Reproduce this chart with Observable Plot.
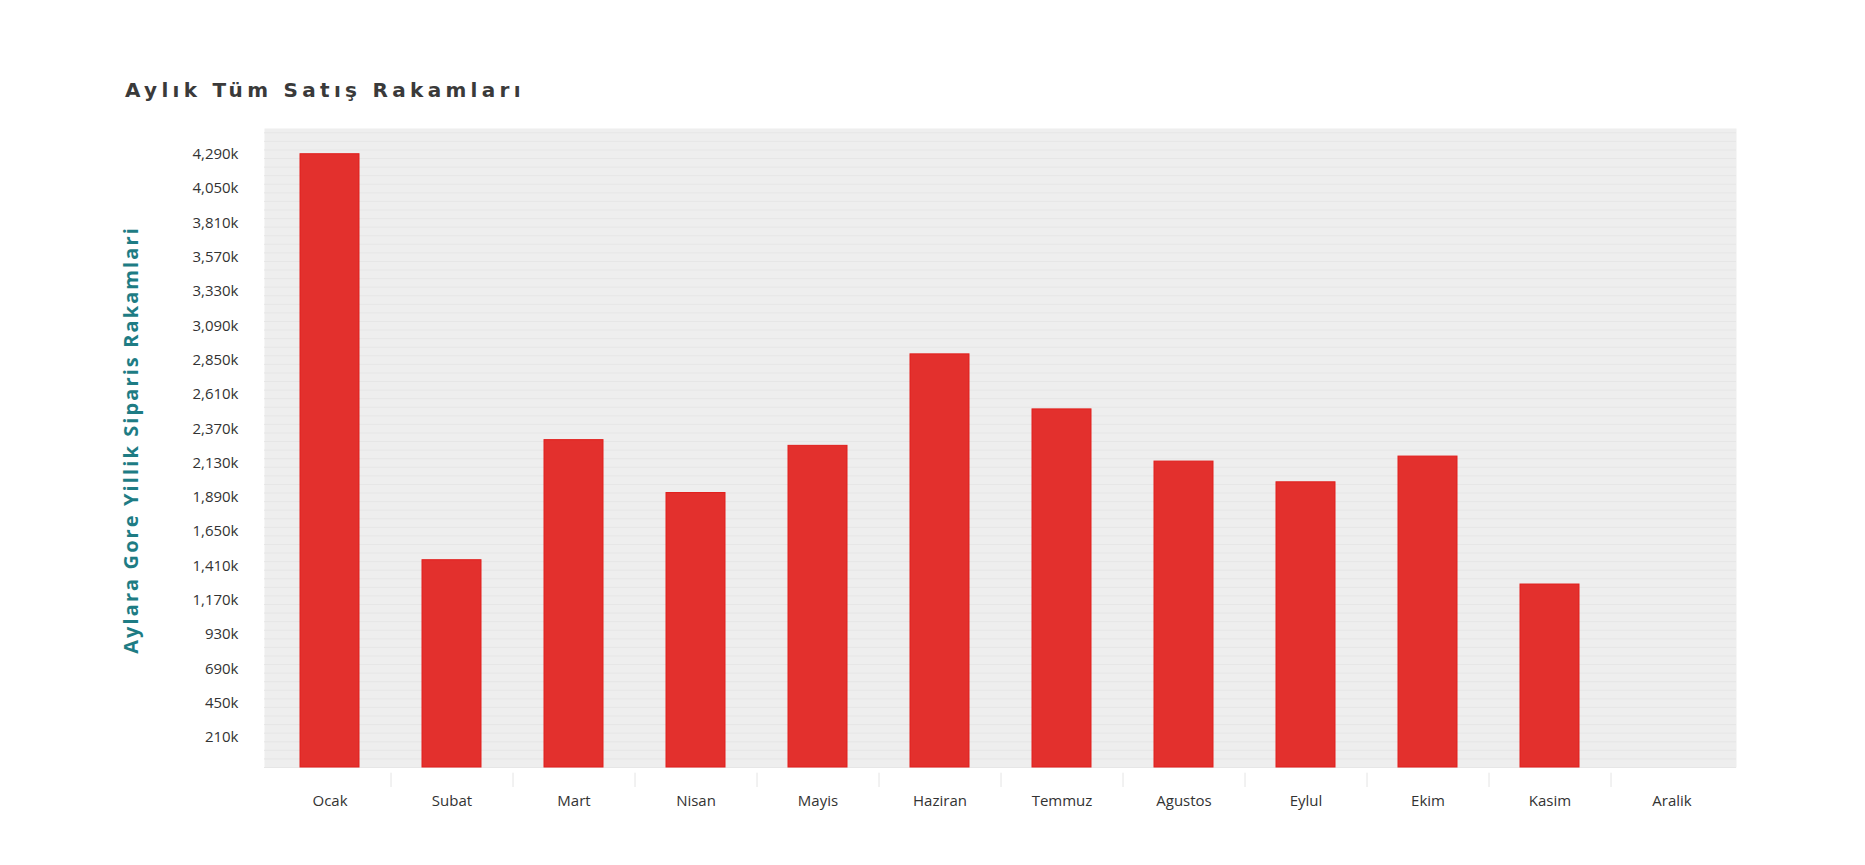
<!DOCTYPE html>
<html>
<head>
<meta charset="utf-8">
<script src="https://cdn.jsdelivr.net/npm/d3@7"></script>
<script src="https://cdn.jsdelivr.net/npm/@observablehq/plot@0.6"></script>
<style>
  html, body { margin: 0; padding: 0; background: #ffffff; }
  #title {
    height: 115px; box-sizing: border-box; padding: 79px 0 0 125px;
    font-family: "DejaVu Sans", Verdana, sans-serif; font-size: 20px; font-weight: bold;
    color: #3a3a3a; letter-spacing: 4.3px; line-height: 22px;
  }
  svg { display: block; }
</style>
</head>
<body>
<div id="title">Aylık Tüm Satış Rakamları</div>
<div id="chart"></div>
<script>
const months = ["Ocak", "Subat", "Mart", "Nisan", "Mayis", "Haziran", "Temmuz", "Agustos", "Eylul", "Ekim", "Kasim", "Aralik"];
const sales = [4290, 1450, 2290, 1920, 2250, 2890, 2505, 2140, 1995, 2175, 1280, null];
const yTicks = [210, 450, 690, 930, 1170, 1410, 1650, 1890, 2130, 2370, 2610, 2850, 3090, 3330, 3570, 3810, 4050, 4290];
const stripeTicks = d3.range(0, 4470, 60);
const yTitle = "Aylara Gore Yillik Siparis Rakamlari";

const data = months.map((m, i) => ({month: m, value: sales[i]}));
const fmt = d => d3.format(",")(d) + "k";

const chart = Plot.plot({
  width: 1865,
  height: 750,
  marginTop: 13,
  marginBottom: 98,
  marginLeft: 264,
  marginRight: 129,
  style: {fontFamily: "'Open Sans', 'DejaVu Sans', sans-serif", fontSize: "15px", color: "#333"},
  x: {domain: months, paddingInner: 0.52, paddingOuter: 0.26, label: null},
  y: {domain: [0, 4470], label: null},
  marks: [
    Plot.frame({fill: "#eeeeee", stroke: null}),
    Plot.ruleY(stripeTicks, {stroke: "#e6e6e6", strokeWidth: 1}),
    Plot.barY(data.filter(d => d.value != null), {x: "month", y: "value", fill: "#e3302d", stroke: "#e11f1c", strokeWidth: 1}),
    Plot.axisY({ticks: yTicks, tickFormat: fmt, tickSize: 0, tickPadding: 26, fontSize: 15, fill: "#333"}),
    Plot.axisX({tickSize: 0, tickPadding: 28, fontSize: 15, fill: "#333"}),
    Plot.ruleX(months.slice(1), {x: d => d, dx: -61, y1: -40, y2: -140, stroke: "#e4e4e4", strokeWidth: 1}),
    Plot.text([yTitle], {frameAnchor: "left", dx: -133, dy: -8, rotate: -90, textAnchor: "middle", lineAnchor: "middle", fill: "#1e7c84", fontWeight: "bold", fontSize: 20})
  ]
});
d3.select(chart).selectAll("text")
  .filter(function () { return this.textContent === yTitle; })
  .style("letter-spacing", "2.1px");
document.getElementById("chart").appendChild(chart);
</script>
</body>
</html>
